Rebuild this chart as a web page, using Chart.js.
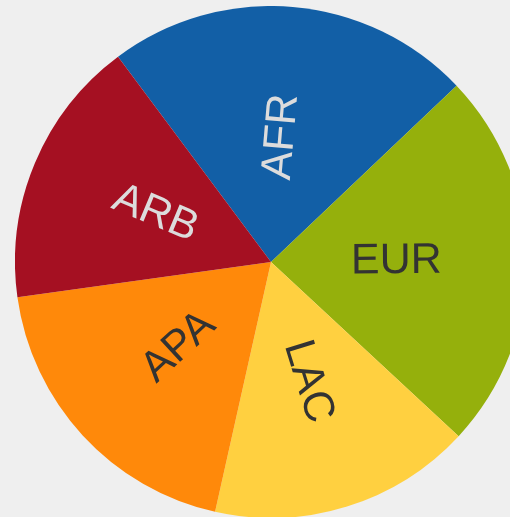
<!DOCTYPE html>
<html>
<head>
<meta charset="utf-8">
<script src="https://cdn.jsdelivr.net/npm/chart.js@4/dist/chart.umd.min.js"></script>
<style>
  html, body { margin: 0; padding: 0; background: #efefef; overflow: hidden; width: 510px; height: 517px; }
  #wrap { position: absolute; left: 15px; top: 6px; width: 512px; height: 512px; }
</style>
</head>
<body>
<div id="wrap"><canvas id="pie" width="512" height="512"></canvas></div>
<script>
var regions = ['AFR', 'EUR', 'LAC', 'APA', 'ARB'];
var shares = [23.1, 24.0, 16.6, 19.3, 17.0];
var sliceColors = ['#125fa6', '#95b00c', '#ffd040', '#ff890a', '#a51022'];
var labelColors = ['#dcdcdc', '#333333', '#333333', '#333333', '#dcdcdc'];

// draw region names inside the slices, rotated along the radius
var sliceLabels = {
    id: 'sliceLabels',
    afterDatasetsDraw: function (chart) {
        var ctx = chart.ctx;
        var arcs = chart.getDatasetMeta(0).data;
        ctx.save();
        ctx.font = '43px "Liberation Sans", Arial, sans-serif';
        ctx.textAlign = 'center';
        ctx.textBaseline = 'middle';
        for (var i = 0; i < arcs.length; i++) {
            var a = arcs[i];
            var mid = (a.startAngle + a.endAngle) / 2;
            var r = a.outerRadius * 0.49;
            var x = a.x + Math.cos(mid) * r;
            var y = a.y + Math.sin(mid) * r;
            var m = ((mid % (2 * Math.PI)) + 2 * Math.PI) % (2 * Math.PI);
            var rot = mid;
            if (m > Math.PI / 2 && m < Math.PI * 1.5) rot = mid - Math.PI;
            ctx.save();
            ctx.translate(x, y);
            ctx.rotate(rot);
            ctx.fillStyle = labelColors[i];
            ctx.fillText(regions[i], 0, 0);
            ctx.restore();
        }
        ctx.restore();
    }
};

new Chart(document.getElementById('pie'), {
    type: 'pie',
    data: {
        labels: regions,
        datasets: [{
            data: shares,
            backgroundColor: sliceColors,
            borderWidth: 0
        }]
    },
    options: {
        responsive: false,
        devicePixelRatio: 1,
        animation: false,
        rotation: -36.7,
        layout: { padding: 0 },
        plugins: {
            legend: { display: false },
            tooltip: { enabled: false }
        }
    },
    plugins: [sliceLabels]
});
</script>
</body>
</html>
